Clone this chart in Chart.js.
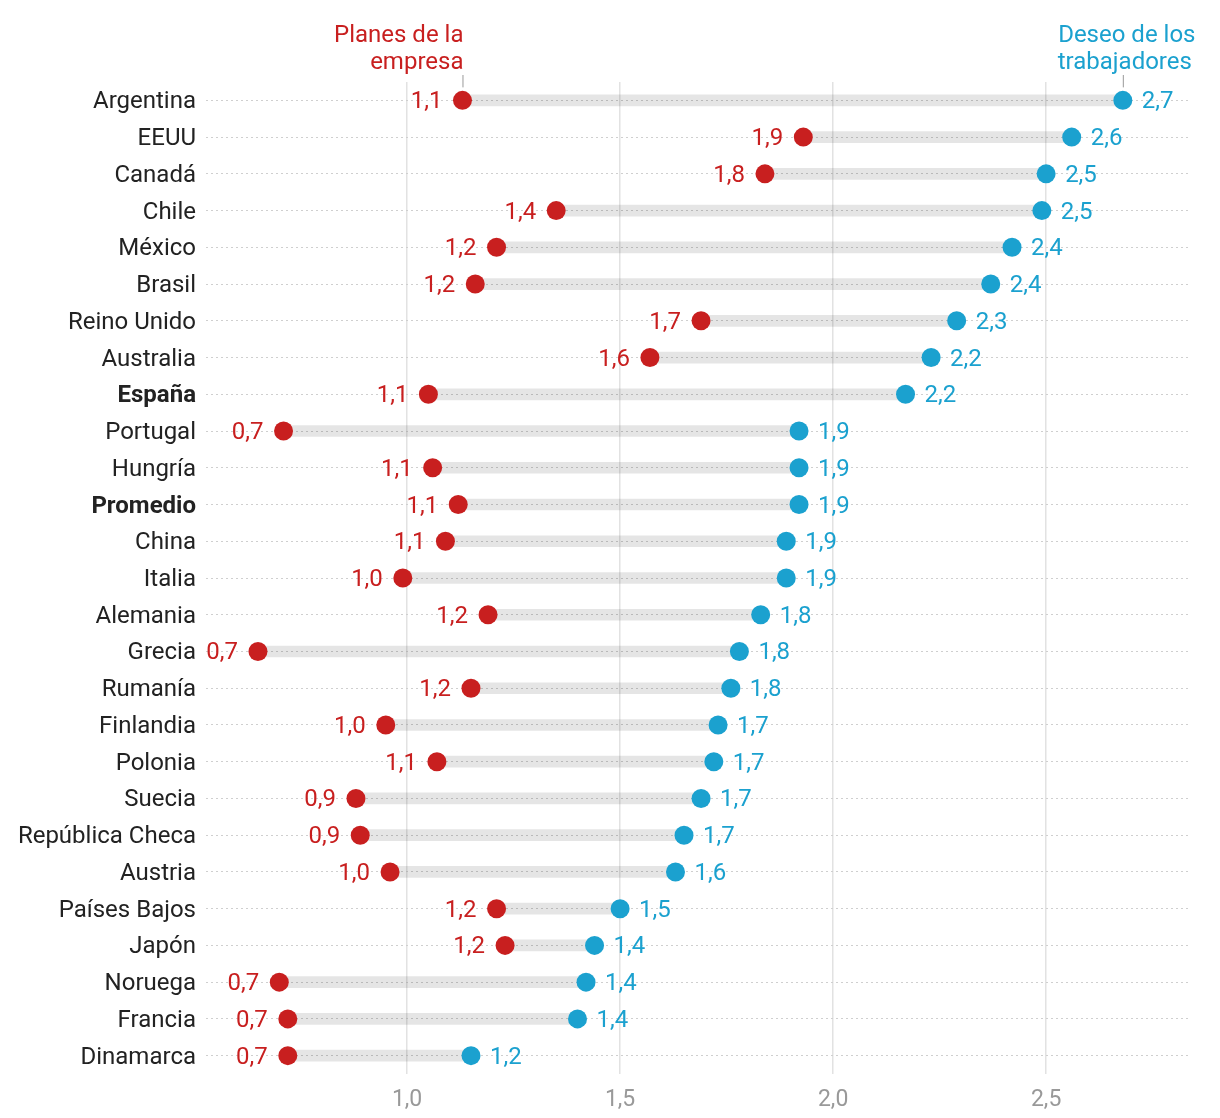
<!DOCTYPE html>
<html>
<head>
<meta charset="utf-8">
<script src="https://cdn.jsdelivr.net/npm/chart.js@4.4.0/dist/chart.umd.min.js"></script>
<style>
  html, body { margin: 0; padding: 0; background: #fff; }
  #wrap { width: 1220px; height: 1118px; }
</style>
</head>
<body>
<div id="wrap"><canvas id="chart" width="1220" height="1118"></canvas></div>
<script>
const countries = ["Argentina", "EEUU", "Canadá", "Chile", "México", "Brasil", "Reino Unido", "Australia", "España",
  "Portugal", "Hungría", "Promedio", "China", "Italia", "Alemania", "Grecia", "Rumanía", "Finlandia", "Polonia",
  "Suecia", "República Checa", "Austria", "Países Bajos", "Japón", "Noruega", "Francia", "Dinamarca"];

// Planes de la empresa
const planes = [1.13, 1.93, 1.84, 1.35, 1.21, 1.16, 1.69, 1.57, 1.05, 0.71, 1.06, 1.12, 1.09, 0.99, 1.19, 0.65,
  1.15, 0.95, 1.07, 0.88, 0.89, 0.96, 1.21, 1.23, 0.70, 0.72, 0.72];
const planesLabels = ["1,1", "1,9", "1,8", "1,4", "1,2", "1,2", "1,7", "1,6", "1,1", "0,7", "1,1", "1,1", "1,1", "1,0",
  "1,2", "0,7", "1,2", "1,0", "1,1", "0,9", "0,9", "1,0", "1,2", "1,2", "0,7", "0,7", "0,7"];

// Deseo de los trabajadores
const deseo = [2.68, 2.56, 2.50, 2.49, 2.42, 2.37, 2.29, 2.23, 2.17, 1.92, 1.92, 1.92, 1.89, 1.89, 1.83, 1.78,
  1.76, 1.73, 1.72, 1.69, 1.65, 1.63, 1.50, 1.44, 1.42, 1.40, 1.15];
const deseoLabels = ["2,7", "2,6", "2,5", "2,5", "2,4", "2,4", "2,3", "2,2", "2,2", "1,9", "1,9", "1,9", "1,9", "1,9",
  "1,8", "1,8", "1,8", "1,7", "1,7", "1,7", "1,7", "1,6", "1,5", "1,4", "1,4", "1,4", "1,2"];

const xTicks = [1.0, 1.5, 2.0, 2.5];
const boldRows = ["España", "Promedio"];

const RED = "#c81f1f";
const BLUE = "#1ba1cf";
const FONT = "Roboto, 'Noto Sans', sans-serif";

const labelPlugin = {
  id: "labels",
  afterDatasetsDraw(chart) {
    const ctx = chart.ctx;
    const x = chart.scales.x, y = chart.scales.y;
    ctx.save();
    ctx.font = "24px " + FONT;
    ctx.textBaseline = "middle";
    countries.forEach((c, i) => {
      const py = y.getPixelForValue(i);
      ctx.fillStyle = RED;
      ctx.textAlign = "right";
      ctx.fillText(planesLabels[i], x.getPixelForValue(planes[i]) - 20, py + 2);
      ctx.fillStyle = BLUE;
      ctx.textAlign = "left";
      ctx.fillText(deseoLabels[i], x.getPixelForValue(deseo[i]) + 19, py + 2);
    });

    // header annotations
    const top = y.getPixelForValue(0);
    const rx = x.getPixelForValue(planes[0]);
    const bx = x.getPixelForValue(deseo[0]);
    ctx.strokeStyle = "#999";
    ctx.lineWidth = 1;
    ctx.beginPath();
    ctx.moveTo(rx + 0.5, 75); ctx.lineTo(rx + 0.5, top - 13);
    ctx.moveTo(bx + 0.5, 75); ctx.lineTo(bx + 0.5, top - 13);
    ctx.stroke();
    ctx.fillStyle = RED;
    ctx.textAlign = "right";
    ctx.fillText("Planes de la", rx + 1, 36);
    ctx.fillText("empresa", rx + 1, 63);
    ctx.fillStyle = BLUE;
    ctx.textAlign = "center";
    ctx.fillText("Deseo de los", bx + 4, 36);
    ctx.fillText("trabajadores", bx + 2, 63);
    ctx.restore();
  }
};

new Chart(document.getElementById("chart"), {
  type: "bar",
  data: {
    labels: countries,
    datasets: [
      {
        type: "line",
        indexAxis: "y",
        data: planes.map((v, i) => ({ x: v, y: countries[i] })),
        showLine: false,
        pointRadius: 9.5,
        pointHoverRadius: 9.5,
        pointBackgroundColor: RED,
        pointBorderWidth: 0,
        order: 0
      },
      {
        type: "line",
        indexAxis: "y",
        data: deseo.map((v, i) => ({ x: v, y: countries[i] })),
        showLine: false,
        pointRadius: 9.5,
        pointHoverRadius: 9.5,
        pointBackgroundColor: BLUE,
        pointBorderWidth: 0,
        order: 0
      },
      {
        data: planes.map((v, i) => [v, deseo[i]]),
        backgroundColor: "rgba(0,0,0,0.1)",
        barThickness: 11,
        borderWidth: 0,
        order: 1
      }
    ]
  },
  options: {
    indexAxis: "y",
    responsive: false,
    animation: false,
    layout: { padding: { top: 82, right: 32, left: 0, bottom: 0 } },
    plugins: { legend: { display: false }, tooltip: { enabled: false } },
    scales: {
      x: {
        type: "linear",
        min: 0.528,
        max: 2.833,
        afterBuildTicks: s => { s.ticks = xTicks.map(v => ({ value: v })); },
        afterFit: s => { s.height = 44; },
        grid: { color: "#e2e2e2", lineWidth: 1.5, drawTicks: false },
        border: { display: false },
        ticks: {
          padding: 12,
          color: "#999",
          font: { family: FONT, size: 23 },
          callback: v => v.toFixed(1).replace(".", ",")
        }
      },
      y: {
        type: "category",
        offset: true,
        afterFit: s => { s.width = 206; },
        grid: { color: "#cfcfcf", lineWidth: 1, drawTicks: false, offset: false },
        border: { display: false, dash: [2, 3] },
        ticks: {
          padding: 10,
          labelOffset: 2,
          color: "#222",
          font: ctx => ({
            family: FONT,
            size: 24,
            weight: boldRows.includes(countries[ctx.index]) ? "bold" : "normal"
          })
        }
      }
    }
  },
  plugins: [labelPlugin]
});
</script>
</body>
</html>
